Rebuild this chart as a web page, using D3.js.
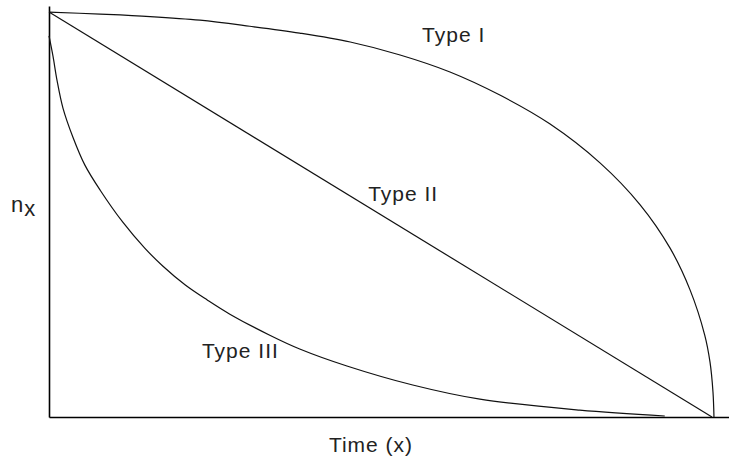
<!DOCTYPE html>
<html>
<head>
<meta charset="utf-8">
<script src="https://cdn.jsdelivr.net/npm/d3@7"></script>
<style>
  html, body { margin: 0; padding: 0; background: #fff; }
  svg { display: block; }
  text { font-family: "Liberation Sans", Arial, sans-serif; fill: #222; letter-spacing: 1px; }
</style>
</head>
<body>
<svg id="chart" width="729" height="464"></svg>
<script>
// Time (x) on a 0-100 scale, survivors n_x on a 0-100 scale
const typeITime   = [0, 7.7, 15.2, 22.7, 30.2, 37.7, 45.3, 52.8, 60.3, 67.8, 75.3, 82.9, 88.9, 93.4, 96.4, 98.6, 99.4, 99.85, 100];
const typeIValues = [100, 99.5, 98.9, 98.0, 96.5, 94.8, 92.6, 89.4, 85.2, 79.5, 72.4, 62.7, 52.4, 41.7, 31.4, 20.3, 13.6, 6.2, 0];

const typeIITime   = [0, 99.7];
const typeIIValues = [100, 0];

const typeIIITime   = [0, 0.6, 1.2, 2.1, 3.6, 5.4, 7.7, 11.1, 14.4, 17.1, 20.5, 23.8, 27.2, 33.2, 37.7, 44.8, 54.7, 64.8, 79.8, 92.6];
const typeIIIValues = [94.1, 89.1, 83.2, 76.3, 69.1, 62.2, 56.0, 48.1, 41.7, 37.3, 32.6, 28.9, 25.4, 20.2, 16.8, 12.6, 7.9, 4.4, 1.7, 0.25];

const seriesLabels = ["Type I", "Type II", "Type III"];
const xAxisLabel = "Time (x)";
const yAxisLabel = "n";
const yAxisSub = "x";

const svg = d3.select("#chart");

const x = d3.scaleLinear().domain([0, 102.26]).range([49, 729]);
const y = d3.scaleLinear().domain([0, 101.5]).range([417, 6]);

// axes (no ticks)
svg.append("g")
  .attr("transform", `translate(0,${y(0)})`)
  .call(d3.axisBottom(x).ticks(0).tickSizeOuter(0))
  .call(g => g.select(".domain").attr("stroke", "#000").attr("stroke-width", 1.6));
svg.append("g")
  .attr("transform", `translate(${x(0)},0)`)
  .call(d3.axisLeft(y).ticks(0).tickSizeOuter(0))
  .call(g => g.select(".domain").attr("stroke", "#000").attr("stroke-width", 1.6));

const line = d3.line()
  .x(d => x(d[0]))
  .y(d => y(d[1]))
  .curve(d3.curveCatmullRom.alpha(0.5));

const series = [
  d3.zip(typeITime, typeIValues),
  d3.zip(typeIITime, typeIIValues),
  d3.zip(typeIIITime, typeIIIValues)
];

svg.append("g").selectAll("path")
  .data(series)
  .join("path")
  .attr("d", line)
  .attr("fill", "none")
  .attr("stroke", "#111")
  .attr("stroke-width", 1.2);

// series labels
const labelPos = [[56.1, 92.6], [48, 53.3], [23.0, 14.6]];
svg.append("g").selectAll("text")
  .data(seriesLabels)
  .join("text")
  .attr("x", (d, i) => x(labelPos[i][0]))
  .attr("y", (d, i) => y(labelPos[i][1]))
  .attr("font-size", 21)
  .text(d => d);

// axis titles
svg.append("text")
  .attr("x", 371)
  .attr("y", 452)
  .attr("text-anchor", "middle")
  .attr("font-size", 21)
  .text(xAxisLabel);

const yl = svg.append("text")
  .attr("x", 11)
  .attr("y", 212)
  .attr("font-size", 22);
yl.append("tspan").text(yAxisLabel);
yl.append("tspan").attr("dy", 4).text(yAxisSub);
</script>
</body>
</html>
